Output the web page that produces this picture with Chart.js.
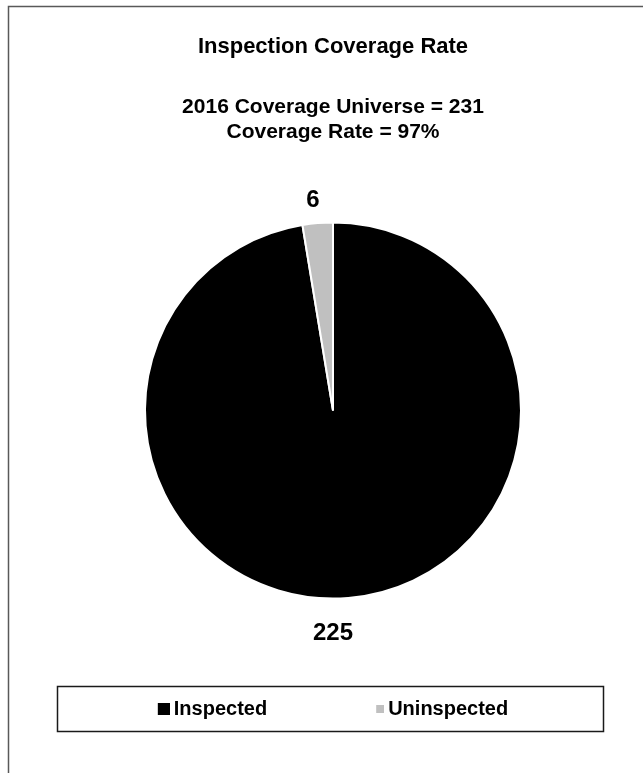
<!DOCTYPE html>
<html>
<head>
<meta charset="utf-8">
<script src="https://cdn.jsdelivr.net/npm/chart.js@4"></script>
<style>
  html, body { margin: 0; padding: 0; background: #fff; overflow: hidden; }
  #wrap { width: 643px; height: 773px; }
</style>
</head>
<body>
<div id="wrap"><canvas id="coverageChart"></canvas></div>
<script>
const labels = ['Inspected', 'Uninspected'];
const counts = [225, 6];
const sliceColors = ['#000000', '#c0c0c0'];
const titleText = 'Inspection Coverage Rate';
const subtitleLines = ['2016 Coverage Universe = 231', 'Coverage Rate = 97%'];

Chart.defaults.font.family = "'Liberation Sans', Arial, sans-serif";
Chart.defaults.color = '#000';

// marcador da legenda colado no texto (como no Excel)
function legendMarker(color, size) {
    const c = document.createElement('canvas');
    c.width = 18;
    c.height = 12;
    const g = c.getContext('2d');
    g.fillStyle = color;
    g.fillRect(18 - size, (12 - size) / 2, size, size);
    return c;
}

// moldura externa e caixa da legenda
const framePlugin = {
    id: 'framePlugin',
    beforeDraw(chart) {
        const ctx = chart.ctx;
        ctx.save();
        ctx.fillStyle = '#fff';
        ctx.fillRect(0, 0, chart.width, chart.height);
        ctx.strokeStyle = '#595959';
        ctx.lineWidth = 1.5;
        ctx.strokeRect(8.5, 6.5, 800, 900);
        ctx.restore();
    },
    afterDraw(chart) {
        const ctx = chart.ctx;
        ctx.save();
        ctx.strokeStyle = '#1a1a1a';
        ctx.lineWidth = 1.5;
        ctx.strokeRect(57.5, 686.5, 546, 45);
        ctx.restore();
    }
};

// rótulos de valor fora das fatias (a fatia grande fica embaixo, como no Excel)
const outsideLabels = {
    id: 'outsideLabels',
    afterDatasetsDraw(chart) {
        const ctx = chart.ctx;
        const meta = chart.getDatasetMeta(0);
        ctx.save();
        ctx.font = "bold 24px 'Liberation Sans', Arial, sans-serif";
        ctx.fillStyle = '#000';
        ctx.textAlign = 'center';
        ctx.textBaseline = 'middle';
        meta.data.forEach((arc, i) => {
            const p = arc.getProps(['x', 'y', 'startAngle', 'endAngle', 'outerRadius'], true);
            const big = counts[i] === Math.max(...counts);
            const angle = big ? Math.PI / 2 : (p.startAngle + p.endAngle) / 2;
            const r = p.outerRadius + (big ? 35 : 23);
            ctx.fillText(String(counts[i]), p.x + Math.cos(angle) * r - (big ? 0 : 3), p.y + Math.sin(angle) * r);
        });
        ctx.restore();
    }
};

const ctx = document.getElementById('coverageChart').getContext('2d');
new Chart(ctx, {
    type: 'pie',
    data: {
        labels: labels,
        datasets: [{
            data: counts,
            backgroundColor: sliceColors,
            borderColor: '#fff',
            borderWidth: 2
        }]
    },
    options: {
        responsive: true,
        maintainAspectRatio: false,
        animation: false,
        radius: 188,
        layout: { padding: { top: 0, left: 23, right: 0, bottom: 44 } },
        plugins: {
            title: {
                display: true,
                text: titleText,
                font: { size: 22, weight: 'bold' },
                color: '#000',
                padding: { top: 33.5, bottom: 0 }
            },
            subtitle: {
                display: true,
                text: subtitleLines,
                font: { size: 21, weight: 'bold' },
                color: '#000',
                padding: { top: 35, bottom: 81.7 }
            },
            legend: {
                position: 'bottom',
                labels: {
                    padding: 105,
                    boxHeight: 12,
                    usePointStyle: true,
                    pointStyleWidth: 6,
                    color: '#000',
                    font: { size: 20, weight: 'bold' },
                    generateLabels(chart) {
                        return chart.data.labels.map((text, i) => ({
                            text: text,
                            fillStyle: sliceColors[i],
                            strokeStyle: sliceColors[i],
                            lineWidth: 0,
                            pointStyle: legendMarker(sliceColors[i], i === 0 ? 12 : 8),
                            fontColor: '#000',
                            hidden: false,
                            index: i
                        }));
                    }
                }
            },
            tooltip: { enabled: false }
        }
    },
    plugins: [framePlugin, outsideLabels]
});
</script>
</body>
</html>
